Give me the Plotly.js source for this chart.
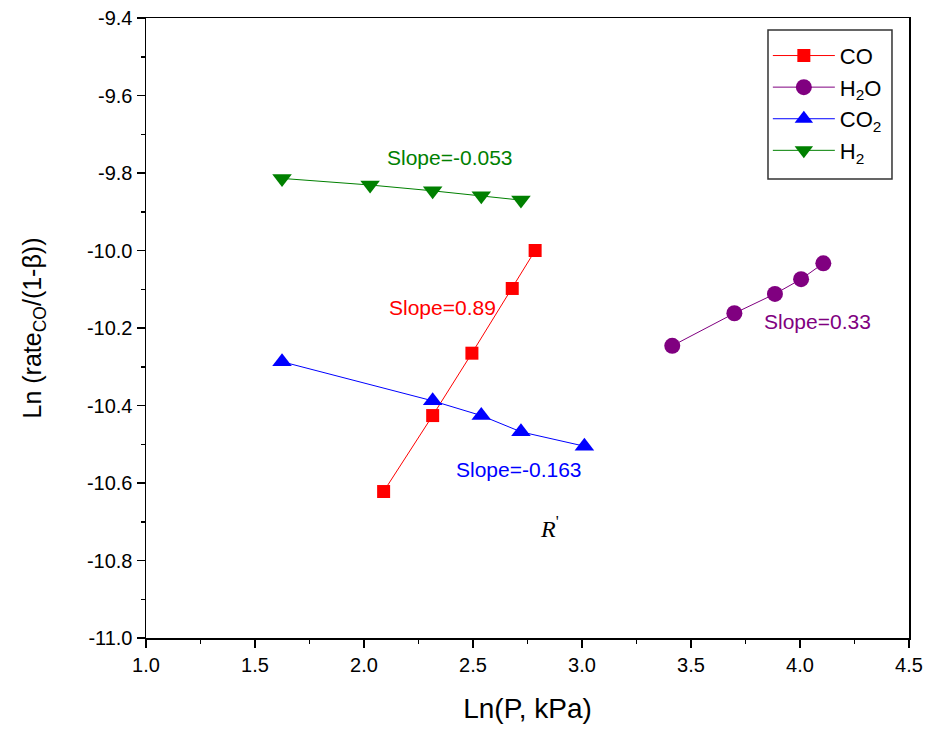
<!DOCTYPE html>
<html>
<head>
<meta charset="utf-8">
<script src="https://cdn.plot.ly/plotly-3.0.1.min.js"></script>
<style>html,body{margin:0;padding:0;background:#fff}#chart{width:926px;height:731px}</style>
</head>
<body>
<div id="chart"></div>
<script>
// Data
const coX  = [2.09, 2.315, 2.495, 2.68, 2.785];
const coY  = [-10.622, -10.426, -10.265, -10.098, -10.0];
const h2oX = [3.414, 3.699, 3.885, 4.005, 4.107];
const h2oY = [-10.246, -10.162, -10.112, -10.074, -10.033];
const co2X = [1.624, 2.315, 2.538, 2.72, 3.011];
const co2Y = [-10.287, -10.388, -10.426, -10.468, -10.505];
const h2X  = [1.624, 2.028, 2.315, 2.538, 2.72];
const h2Y  = [-9.814, -9.831, -9.846, -9.859, -9.870];
const seriesNames = ['CO', 'H<sub>2</sub>O', 'CO<sub>2</sub>', 'H<sub>2</sub>'];
const slopeLabels = ['Slope=0.89', 'Slope=0.33', 'Slope=-0.163', 'Slope=-0.053'];
const xTickVals = [1.0, 1.5, 2.0, 2.5, 3.0, 3.5, 4.0, 4.5];
const xTickText = ['1.0', '1.5', '2.0', '2.5', '3.0', '3.5', '4.0', '4.5'];
const yTickVals = [-11.0, -10.8, -10.6, -10.4, -10.2, -10.0, -9.8, -9.6, -9.4];
const yTickText = ['-11.0', '-10.8', '-10.6', '-10.4', '-10.2', '-10.0', '-9.8', '-9.6', '-9.4'];

const font = 'Arial, "Liberation Sans", sans-serif';

const traces = [
  {x: coX, y: coY, name: seriesNames[0], legendgroup: 'a', mode: 'lines+markers',
   line: {color: '#ff0000', width: 1}, marker: {symbol: 'square', size: 13, color: '#ff0000'}},
  {x: h2oX, y: h2oY, name: seriesNames[1], legendgroup: 'b', mode: 'lines+markers',
   line: {color: '#800080', width: 1}, marker: {symbol: 'circle', size: 16, color: '#800080'}},
  {x: co2X, y: co2Y, name: seriesNames[2], legendgroup: 'c', mode: 'lines+markers',
   line: {color: '#0000ff', width: 1}, marker: {symbol: 'triangle-up', size: 17, color: '#0000ff'}},
  {x: h2X, y: h2Y, name: seriesNames[3], legendgroup: 'd', mode: 'lines+markers',
   line: {color: '#008000', width: 1}, marker: {symbol: 'triangle-down', size: 17, color: '#008000'}}
];

const layout = {
  width: 926, height: 731,
  margin: {l: 146, r: 17, t: 18, b: 93},
  paper_bgcolor: '#fff', plot_bgcolor: '#fff',
  font: {family: font, color: '#000'},
  showlegend: true,
  legend: {x: 0.815, y: 0.973, xanchor: 'left', yanchor: 'top',
           borderwidth: 0, bgcolor: 'rgba(0,0,0,0)',
           font: {size: 22, family: font}, itemwidth: 62,
           traceorder: 'grouped', tracegroupgap: 0},
  shapes: [
    {type: 'rect', xref: 'paper', yref: 'paper', x0: 0.8152, x1: 0.9777, y0: 0.7403, y1: 0.9806,
     line: {color: '#333', width: 1.5}, fillcolor: 'rgba(0,0,0,0)', layer: 'above'}
  ],
  xaxis: {range: [1.0, 4.5], tickmode: 'array', tickvals: xTickVals, ticktext: xTickText,
          ticks: 'outside', ticklen: 8, tickwidth: 1.5, tickcolor: '#000',
          minor: {dtick: 0.25, tick0: 1.0, ticks: 'outside', ticklen: 4, tickwidth: 1.5, tickcolor: '#000'},
          showline: true, linewidth: 1.5, linecolor: '#000', mirror: true,
          showgrid: false, zeroline: false,
          tickfont: {size: 20, family: font, color: '#000'},
          title: {text: 'Ln(P, kPa)', font: {size: 28, family: font}, standoff: 24}},
  yaxis: {range: [-11.0, -9.4], tickmode: 'array', tickvals: yTickVals, ticktext: yTickText,
          ticks: 'outside', ticklen: 8, tickwidth: 1.5, tickcolor: '#000',
          minor: {dtick: 0.1, tick0: -11.0, ticks: 'outside', ticklen: 4, tickwidth: 1.5, tickcolor: '#000'},
          showline: true, linewidth: 1.5, linecolor: '#000', mirror: true,
          showgrid: false, zeroline: false,
          tickfont: {size: 20, family: font, color: '#000'},
          title: {text: 'Ln (rate<sub>CO</sub>/(1-β))', font: {size: 25, family: font}, standoff: 38}},
  annotations: [
    {x: 2.358, y: -10.146, text: slopeLabels[0], showarrow: false, font: {size: 21, color: '#ff0000', family: font}},
    {x: 4.078, y: -10.182, text: slopeLabels[1], showarrow: false, font: {size: 21, color: '#800080', family: font}},
    {x: 2.711, y: -10.564, text: slopeLabels[2], showarrow: false, font: {size: 21, color: '#0000ff', family: font}},
    {x: 2.394, y: -9.759, text: slopeLabels[3], showarrow: false, font: {size: 21, color: '#008000', family: font}},
    {x: 2.853, y: -10.713, text: "<i>R</i><sup>'</sup>", showarrow: false,
     font: {size: 24, color: '#000', family: '"Times New Roman", "Liberation Serif", serif'}}
  ]
};

Plotly.newPlot('chart', traces, layout, {displayModeBar: false, staticPlot: true});
</script>
</body>
</html>
